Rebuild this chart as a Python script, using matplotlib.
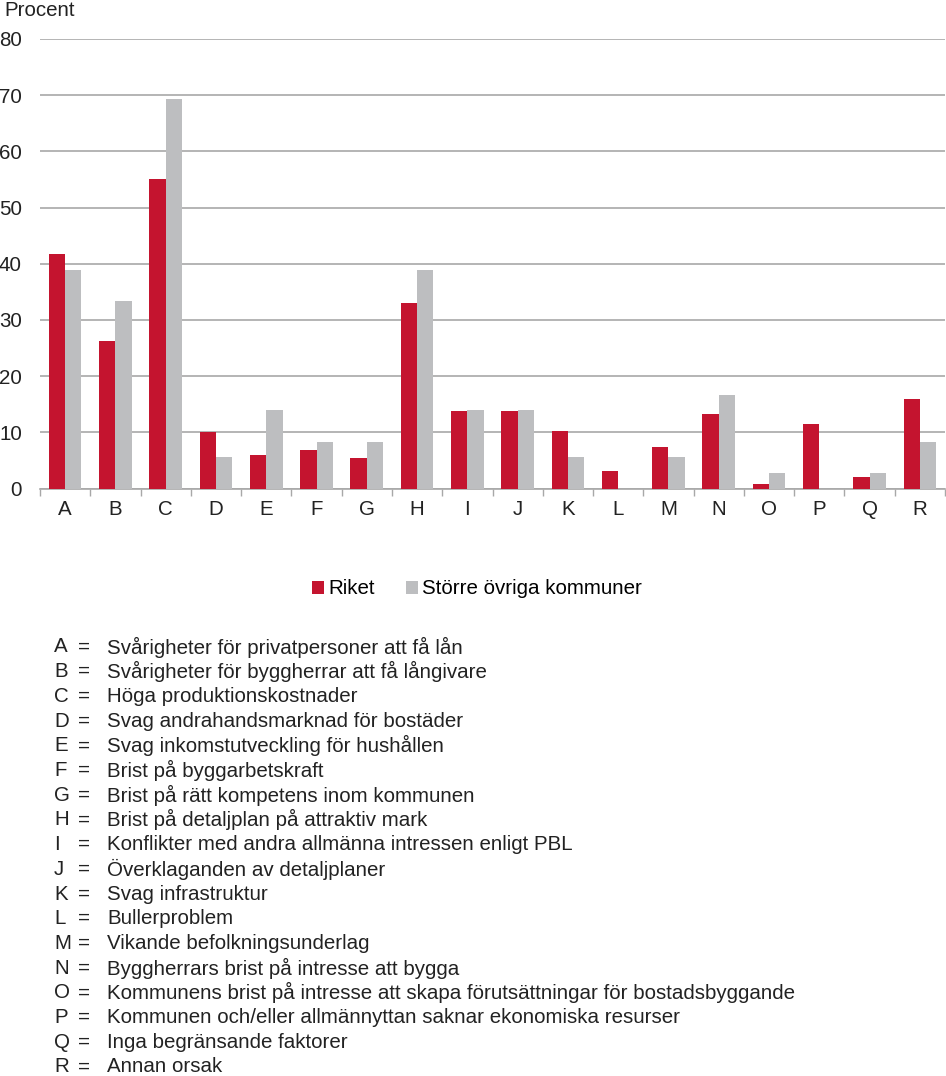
import matplotlib
matplotlib.use("Agg")
import matplotlib.pyplot as plt
import numpy as np

plt.rcParams['font.family'] = ['Liberation Sans', 'DejaVu Sans']

categories = ["A", "B", "C", "D", "E", "F", "G", "H", "I", "J", "K", "L", "M", "N", "O", "P", "Q", "R"]
riket = [41.7, 26.2, 55.1, 10.0, 5.9, 6.9, 5.5, 33.1, 13.8, 13.8, 10.3, 3.1, 7.3, 13.2, 0.8, 11.4, 2.1, 15.9]
storre = [38.9, 33.4, 69.4, 5.6, 13.9, 8.3, 8.3, 38.9, 13.9, 13.9, 5.6, 0.0, 5.6, 16.7, 2.8, 0.0, 2.8, 8.3]
series_names = ["Riket", "Större övriga kommuner"]
descriptions = [
    "Svårigheter för privatpersoner att få lån",
    "Svårigheter för byggherrar att få långivare",
    "Höga produktionskostnader",
    "Svag andrahandsmarknad för bostäder",
    "Svag inkomstutveckling för hushållen",
    "Brist på byggarbetskraft",
    "Brist på rätt kompetens inom kommunen",
    "Brist på detaljplan på attraktiv mark",
    "Konflikter med andra allmänna intressen enligt PBL",
    "Överklaganden av detaljplaner",
    "Svag infrastruktur",
    "Bullerproblem",
    "Vikande befolkningsunderlag",
    "Byggherrars brist på intresse att bygga",
    "Kommunens brist på intresse att skapa förutsättningar för bostadsbyggande",
    "Kommunen och/eller allmännyttan saknar ekonomiska resurser",
    "Inga begränsande faktorer",
    "Annan orsak",
]
yticks = [0, 10, 20, 30, 40, 50, 60, 70, 80]

RED = "#c4142f"
GRAY = "#bdbec0"
GRID = "#a8a8a8"
TXT = "#222222"
FS = 14.8

W, H = 946, 1076
fig = plt.figure(figsize=(W / 100, H / 100), dpi=100)
ax = fig.add_axes([40 / W, 1 - 488.5 / H, 905 / W, 449.5 / H])

x = np.arange(len(categories))
bw = 0.325
ax.bar(x - bw / 2, riket, bw, color=RED, label=series_names[0], zorder=3)
ax.bar(x + bw / 2, storre, bw, color=GRAY, label=series_names[1], zorder=3)

ax.set_xlim(-0.5, len(categories) - 0.5)
ax.set_ylim(0, 80)
ax.set_yticks(yticks)
ax.set_yticklabels([str(v) for v in yticks], fontsize=FS, color=TXT)
ax.yaxis.grid(True, color=GRID, linewidth=1.2, zorder=0)
ax.tick_params(axis='y', length=0, pad=13)
ax.set_xticks(x)
ax.set_xticklabels(categories, fontsize=FS, color=TXT)
ax.tick_params(axis='x', which='major', length=0, pad=8)
ax.set_xticks(np.arange(-0.5, len(categories) + 0.5, 1), minor=True)
ax.tick_params(axis='x', which='minor', length=5, width=1, color=GRID, direction='out')
for s in ['top', 'right', 'left']:
    ax.spines[s].set_visible(False)
ax.spines['bottom'].set_color(GRID)
ax.spines['bottom'].set_linewidth(1.2)
ax.set_axisbelow(True)

fig.text(4 / W, 1 - 10 / H, "Procent", fontsize=FS, color=TXT, va='center', ha='left')

leg = fig.legend(loc='center', bbox_to_anchor=(477 / W, 1 - 589 / H), ncol=2, frameon=False,
                 fontsize=FS, handlelength=0.6, handleheight=0.6, handletextpad=0.2,
                 columnspacing=1.5, borderpad=0)

y0 = 647
dy = 24.7
for i, (c, d) in enumerate(zip(categories, descriptions)):
    yy = 1 - (y0 + i * dy) / H
    fig.text(54 / W, yy, c, fontsize=FS, color=TXT, va='center', ha='left')
    fig.text(84 / W, yy, "=", fontsize=FS, color=TXT, va='center', ha='center')
    fig.text(107 / W, yy, d, fontsize=FS, color=TXT, va='center', ha='left')

fig.savefig("out.png", dpi=100)
